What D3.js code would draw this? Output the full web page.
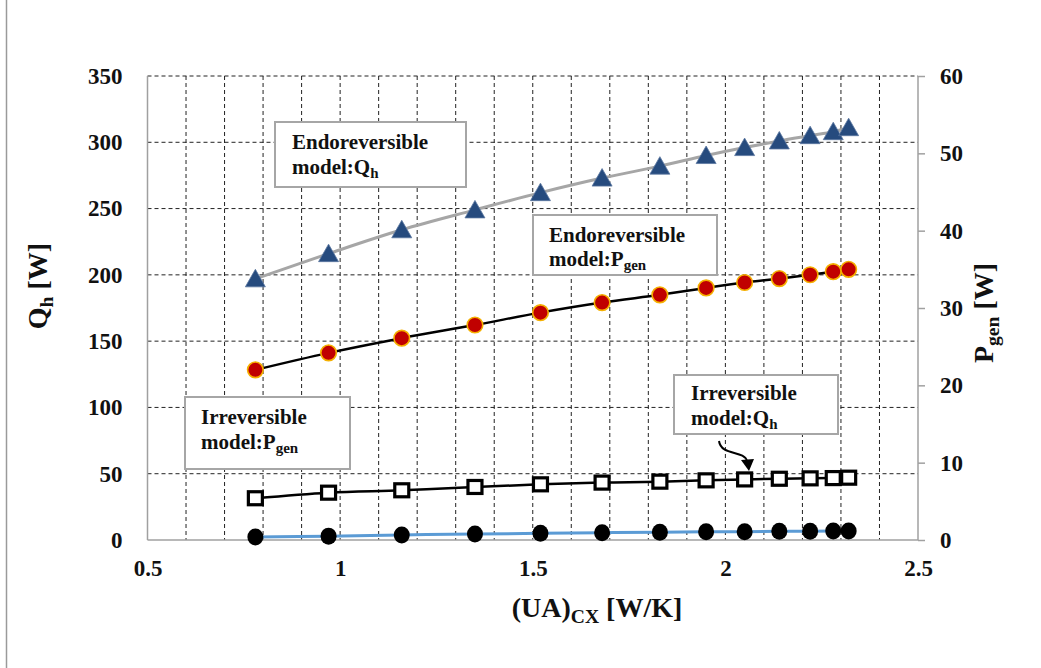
<!DOCTYPE html>
<html><head><meta charset="utf-8">
<script src="https://cdn.jsdelivr.net/npm/d3@7"></script>
<style>
body{margin:0;background:#fff;}
svg{display:block;font-family:"Liberation Serif","Times New Roman",serif;font-weight:bold;}
text{font-family:"Liberation Serif","Times New Roman",serif;}
</style></head><body>
<svg id="c" width="1041" height="668"></svg>
<script>
const xVals    = [0.78,0.97,1.16,1.35,1.52,1.68,1.83,1.95,2.05,2.14,2.22,2.28,2.32];
const endoQh   = [197,216,234,249,262,273,282,290,296,301,305,308,311];
const endoPgen = [22.0,24.2,26.1,27.8,29.4,30.7,31.7,32.6,33.3,33.8,34.3,34.7,35.0];
const irrQh    = [31.5,35.7,37.5,40,42,43.3,44,45,45.7,46.2,46.5,46.7,47];
const irrPgen  = [0.4,0.5,0.65,0.78,0.86,0.95,1.0,1.08,1.08,1.12,1.12,1.16,1.16];
const xTicks = [0.5,1,1.5,2,2.5];
const yLTicks = [0,50,100,150,200,250,300,350];
const yRTicks = [0,10,20,30,40,50,60];
const xGrid = d3.range(6,25).map(d=>d/10);

const svg = d3.select("#c");
const L=147.5,R=918,T=76,B=540;
const x = d3.scaleLinear([0.5,2.5],[L,R]);
const yL = d3.scaleLinear([0,350],[B,T]);
const yR = d3.scaleLinear([0,60],[B,T]);
const FONT = "Liberation Serif, Times New Roman, serif";

// page edge line
svg.append("line").attr("x1",6.5).attr("x2",6.5).attr("y1",0).attr("y2",668).attr("stroke","#9a9a9a").attr("stroke-width",1.5);

// gridlines
const g = svg.append("g");
g.selectAll(".vg").data(xGrid).join("line").attr("x1",d=>x(d)).attr("x2",d=>x(d)).attr("y1",T).attr("y2",B)
  .attr("stroke","#222").attr("stroke-width",1).attr("stroke-dasharray","4,3");
g.selectAll(".hg").data(yLTicks.filter(d=>d>0)).join("line").attr("x1",L).attr("x2",R).attr("y1",d=>yL(d)).attr("y2",d=>yL(d))
  .attr("stroke","#222").attr("stroke-width",1).attr("stroke-dasharray","4,3");

// axes lines
svg.append("line").attr("x1",L).attr("x2",L).attr("y1",T).attr("y2",B).attr("stroke","#a0a0a0").attr("stroke-width",1.5);
svg.append("line").attr("x1",R).attr("x2",R).attr("y1",T).attr("y2",B).attr("stroke","#a0a0a0").attr("stroke-width",1.5);
svg.append("line").attr("x1",L).attr("x2",R).attr("y1",B).attr("y2",B).attr("stroke","#a0a0a0").attr("stroke-width",1.5);

// axes
const axL = svg.append("g").attr("transform",`translate(${L},0)`).call(d3.axisLeft(yL).tickValues(yLTicks).tickSize(0).tickPadding(25));
const axR = svg.append("g").attr("transform",`translate(${R},0)`).call(d3.axisRight(yR).tickValues(yRTicks).tickSize(7).tickPadding(15).tickFormat(d3.format("d")));
const axB = svg.append("g").attr("transform",`translate(0,${B})`).call(d3.axisBottom(x).tickValues(xTicks).tickSize(0).tickPadding(20).tickFormat(d=>d%1===0?d3.format("d")(d):d3.format(".1f")(d)));
[axL,axR,axB].forEach(a=>{
  a.select(".domain").remove();
  a.selectAll("text").attr("font-family",FONT).attr("font-weight","bold").attr("font-size",23).attr("fill","#111");
  a.selectAll("line").attr("stroke","#a0a0a0").attr("stroke-width",1.5);
});

// axis titles
function titleWithSub(parent, main, sub, rest, size){
  const t = parent.append("text").attr("font-family",FONT).attr("font-size",size).attr("font-weight","bold").attr("fill","#111").attr("text-anchor","middle");
  t.append("tspan").text(main);
  t.append("tspan").attr("font-size",size*0.7).attr("dy",size*0.22).text(sub);
  t.append("tspan").attr("dy",-size*0.22).text(rest);
  return t;
}
titleWithSub(svg,"Q","h"," [W]",28).attr("transform","translate(47,286) rotate(-90)");
titleWithSub(svg,"P","gen"," [W]",28).attr("transform","translate(993,313) rotate(-90)");
titleWithSub(svg,"(UA)","CX"," [W/K]",28).attr("transform","translate(597,617)");

const data = xVals.map((v,i)=>({x:v,eQ:endoQh[i],eP:endoPgen[i],iQ:irrQh[i],iP:irrPgen[i]}));
const line = (yf)=>d3.line().x(d=>x(d.x)).y(yf).curve(d3.curveCatmullRom);

// lines
svg.append("path").datum(data).attr("d",line(d=>yL(d.eQ))).attr("fill","none").attr("stroke","#a6a6a6").attr("stroke-width",3);
svg.append("path").datum(data).attr("d",line(d=>yR(d.eP))).attr("fill","none").attr("stroke","#000").attr("stroke-width",2.5);
svg.append("path").datum(data).attr("d",line(d=>yL(d.iQ))).attr("fill","none").attr("stroke","#000").attr("stroke-width",2.5);
svg.append("path").datum(data).attr("d",line(d=>yR(d.iP))).attr("fill","none").attr("stroke","#5b9bd5").attr("stroke-width",3);

// markers
svg.append("g").selectAll("path").data(data).join("path")
  .attr("transform",d=>`translate(${x(d.x)},${yL(d.eQ)})`)
  .attr("d","M0,-9.5 L10,8 L-10,8 Z").attr("fill","#264b7e").attr("stroke","#5a76a0").attr("stroke-width",0.8);
svg.append("g").selectAll("circle").data(data).join("circle")
  .attr("cx",d=>x(d.x)).attr("cy",d=>yR(d.eP)).attr("r",7.8).attr("fill","#c00000").attr("stroke","#f5b000").attr("stroke-width",1.6);
svg.append("g").selectAll("rect").data(data).join("rect")
  .attr("x",d=>x(d.x)-7).attr("y",d=>yL(d.iQ)-6.5).attr("width",14).attr("height",13)
  .attr("fill","#fff").attr("stroke","#000").attr("stroke-width",3.2);
svg.append("g").selectAll("ellipse").data(data).join("ellipse")
  .attr("cx",d=>x(d.x)).attr("cy",d=>yR(d.iP)).attr("rx",8).attr("ry",8.5).attr("fill","#000");

// annotation boxes
function box(x0,y0,w,h,tx,b1,b2,l1,m,sub){
  svg.append("rect").attr("x",x0).attr("y",y0).attr("width",w).attr("height",h).attr("fill","#fff").attr("stroke","#a6a6a6").attr("stroke-width",2);
  svg.append("text").attr("x",tx).attr("y",b1).attr("font-family",FONT).attr("font-size",21).attr("font-weight","bold").attr("fill","#111").text(l1);
  const t = svg.append("text").attr("x",tx).attr("y",b2).attr("font-family",FONT).attr("font-size",21).attr("font-weight","bold").attr("fill","#111");
  t.append("tspan").text(m);
  t.append("tspan").attr("font-size",15).attr("dy",4).text(sub);
}
box(275,122,191,65,292,149,174,"Endoreversible","model:Q","h");
box(533,215,184,60,549,242,266,"Endoreversible","model:P","gen");
box(185,397,165,72,201,424,449,"Irreversible","model:P","gen");
box(674,375,164,59,691,400,425,"Irreversible","model:Q","h");

// arrow
svg.append("path").attr("d","M719,441 C721,456 744,450 747,461").attr("fill","none").attr("stroke","#000").attr("stroke-width",2);
svg.append("path").attr("d","M741,460 L754,459 L749,471 Z").attr("fill","#000");
</script></body></html>
